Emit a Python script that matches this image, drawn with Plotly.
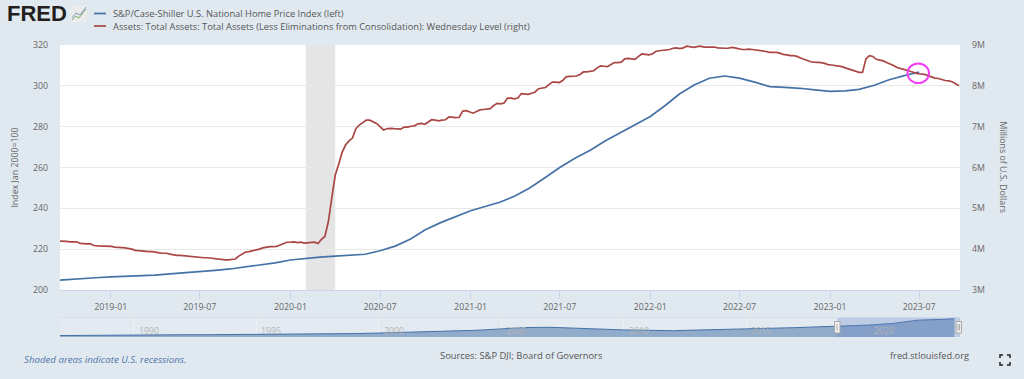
import pandas as pd
import plotly.graph_objects as go

# ---------- data ----------
SERIES_HPI = "S&P/Case-Shiller U.S. National Home Price Index (left)"
SERIES_ASSETS = "Assets: Total Assets: Total Assets (Less Eliminations from Consolidation): Wednesday Level (right)"

hpi_start = "2018-09-01"
hpi_values = [
    204.5, 205.1, 205.6, 206.0,
    206.4, 206.6, 206.9, 207.3, 207.9, 208.4, 208.9, 209.6, 210.3, 211.2, 212.2, 213.3,
    214.7, 215.5, 216.1, 216.6, 216.9, 217.5, 219.2, 221.5, 225.0, 229.5, 233.0, 236.0,
    238.8, 241.0, 243.0, 246.0, 250.0, 255.0, 260.0, 264.5, 268.5, 273.0, 277.0, 281.0,
    285.0, 290.5, 296.0, 300.5, 303.7, 304.8, 303.8, 301.8, 299.6, 299.2, 298.8, 298.0,
    297.3, 297.5, 298.3, 300.3, 303.0, 305.0, 306.8,
]

assets_start = "2018-09-19"
assets_2018 = [4.20, 4.20, 4.19, 4.18, 4.18, 4.18, 4.14, 4.13, 4.13, 4.13, 4.09, 4.08, 4.08, 4.08, 4.07]
assets_2019 = [
    4.07, 4.05, 4.05, 4.04, 4.03, 4.02, 4.00, 3.97, 3.96, 3.95, 3.94, 3.94, 3.94,
    3.92, 3.91, 3.90, 3.90, 3.88, 3.86, 3.85, 3.85, 3.84, 3.83, 3.83, 3.82, 3.81,
    3.80, 3.79, 3.79, 3.78, 3.76, 3.75, 3.75, 3.74, 3.74, 3.75, 3.76, 3.83, 3.88,
    3.93, 3.94, 3.96, 3.97, 4.00, 4.03, 4.05, 4.06, 4.06, 4.07, 4.10, 4.13, 4.17,
]
assets_2020 = [
    4.17, 4.18, 4.16, 4.17, 4.15, 4.16, 4.17, 4.17, 4.14, 4.24, 4.31, 4.67, 5.25,
    5.81, 6.08, 6.37, 6.55, 6.65, 6.72, 6.95, 7.04, 7.10, 7.16, 7.16, 7.11, 7.08,
    7.00, 6.92, 6.95, 6.96, 6.95, 6.94, 6.94, 6.99, 6.99, 7.01, 7.02, 7.07, 7.08,
    7.06, 7.12, 7.17, 7.16, 7.14, 7.16, 7.17, 7.24, 7.23, 7.22, 7.23, 7.38,
]
assets_2021 = [
    7.39, 7.35, 7.33, 7.37, 7.41, 7.42, 7.43, 7.44, 7.52, 7.57, 7.56, 7.58, 7.70,
    7.70, 7.68, 7.70, 7.81, 7.80, 7.79, 7.82, 7.85, 7.93, 7.94, 7.96, 8.03, 8.09,
    8.09, 8.08, 8.13, 8.22, 8.23, 8.24, 8.24, 8.28, 8.34, 8.34, 8.35, 8.37, 8.44,
    8.49, 8.48, 8.47, 8.52, 8.57, 8.57, 8.58, 8.66, 8.67, 8.66, 8.65, 8.72, 8.78,
]
assets_2022 = [
    8.77, 8.76, 8.78, 8.84, 8.86, 8.87, 8.87, 8.89, 8.92, 8.93, 8.91, 8.93, 8.97,
    8.95, 8.94, 8.96, 8.97, 8.95, 8.95, 8.95, 8.95, 8.93, 8.92, 8.92, 8.92, 8.94,
    8.93, 8.91, 8.89, 8.89, 8.90, 8.89, 8.88, 8.87, 8.85, 8.84, 8.82, 8.82, 8.82,
    8.80, 8.77, 8.76, 8.74, 8.74, 8.72, 8.68, 8.65, 8.63, 8.59, 8.58, 8.58, 8.57,
]
assets_2023 = [
    8.55, 8.52, 8.51, 8.50, 8.48, 8.47, 8.44, 8.41, 8.38, 8.36, 8.33, 8.33, 8.66,
    8.74, 8.72, 8.65, 8.63, 8.61, 8.57, 8.54, 8.50, 8.45, 8.43, 8.40, 8.38, 8.35,
    8.32, 8.30, 8.29, 8.28, 8.25, 8.22, 8.19, 8.18, 8.15, 8.13, 8.12, 8.10, 8.05, 8.00,
]
assets_values = assets_2018 + assets_2019 + assets_2020 + assets_2021 + assets_2022 + assets_2023

nav_dates = ["1987-01-01", "1988-01-01", "1989-01-01", "1990-01-01", "1991-01-01", "1992-01-01", "1993-01-01",
             "1994-01-01", "1995-01-01", "1996-01-01", "1997-01-01", "1998-01-01", "1999-01-01", "2000-01-01",
             "2001-01-01", "2002-01-01", "2003-01-01", "2004-01-01", "2005-01-01", "2006-01-01", "2007-01-01",
             "2008-01-01", "2009-01-01", "2010-01-01", "2011-01-01", "2012-01-01", "2013-01-01", "2014-01-01",
             "2015-01-01", "2016-01-01", "2017-01-01", "2018-01-01", "2019-01-01", "2020-01-01", "2021-01-01",
             "2022-01-01", "2023-01-01", "2023-07-01"]
nav_values = [63.7, 68, 73, 76, 75.5, 75.5, 76, 77.5, 80, 81, 83, 86.5, 92, 100, 108, 116, 127, 140, 160, 179, 183,
              171, 153, 145, 140, 134, 143, 155, 161, 169, 178, 188, 206.4, 214.7, 238.8, 285, 297.3, 306.8]

x_ticks = ["2019-01-01", "2019-07-01", "2020-01-01", "2020-07-01", "2021-01-01", "2021-07-01",
           "2022-01-01", "2022-07-01", "2023-01-01", "2023-07-01"]
x_labels = ["2019-01", "2019-07", "2020-01", "2020-07", "2021-01", "2021-07",
            "2022-01", "2022-07", "2023-01", "2023-07"]
left_ticks = [200, 220, 240, 260, 280, 300, 320]
right_ticks = [3, 4, 5, 6, 7, 8, 9]
right_labels = ["3M", "4M", "5M", "6M", "7M", "8M", "9M"]
nav_years = ["1990", "1995", "2000", "2005", "2010", "2015", "2020"]

# ---------- styling ----------
BG = "#e1e9f0"
TEXT = "#666666"
FONT = "Open Sans"
FS = 8.8
BLUE = "#4572a7"
RED = "#aa4643"
view = ["2018-09-20", "2023-09-22"]

PL, PR, PT, PB = 60, 960, 45, 337
px = lambda x: (x - PL) / (PR - PL)
py = lambda y: (PB - y) / (PB - PT)

hpi_dates = pd.date_range(hpi_start, periods=len(hpi_values), freq="MS")
assets_dates = pd.date_range(assets_start, periods=len(assets_values), freq="7D")

fig = go.Figure()
fig.add_trace(go.Scatter(x=hpi_dates, y=hpi_values, name=SERIES_HPI, mode="lines",
                         line=dict(color=BLUE, width=1.7), xaxis="x", yaxis="y"))
fig.add_trace(go.Scatter(x=assets_dates, y=assets_values, name=SERIES_ASSETS, mode="lines",
                         line=dict(color=RED, width=1.7), xaxis="x", yaxis="y2"))
fig.add_trace(go.Scatter(x=nav_dates, y=nav_values, mode="lines", showlegend=False, hoverinfo="skip",
                         line=dict(color=BLUE, width=1), fill="tozeroy", fillcolor="rgba(69,114,167,0.52)",
                         xaxis="x2", yaxis="y3"))


def note(text, x, y, anchor="left", size=FS, color=TEXT, **kw):
    return dict(text=text, x=px(x), y=py(y), xref="paper", yref="paper", xanchor=anchor, yanchor="middle",
                showarrow=False, font=dict(family=kw.pop("family", FONT), size=size, color=color), **kw)


annotations = [
    note(SERIES_HPI, 111, 13.5, size=9.3, color="#555555"),
    note(SERIES_ASSETS, 111, 26, size=9.3, color="#555555"),
    note("<b>FRED</b>", 5, 14, size=22, color="#231f20", family="Liberation Sans"),
    note("<i>Shaded areas indicate U.S. recessions.</i>", 22, 359, size=9.7, color="#4f74a8"),
    note("Sources: S&P DJI; Board of Governors", 521, 355, anchor="center", size=9.4, color="#555555"),
    note("fred.stlouisfed.org", 971, 355, anchor="right", size=9.25, color="#555555"),
    note("Millions of U.S. Dollars", 1003, 167.5, anchor="center", textangle=90),
]
for yr in nav_years:
    annotations.append(dict(text=yr, x=f"{yr}-01-01", xref="x2", y=py(331), yref="paper", xshift=3,
                            xanchor="left", yanchor="middle", showarrow=False,
                            font=dict(family=FONT, size=FS, color="#b4b4b4")))


def rect(x0, y0, x1, y1, fill, line=None, width=1, layer="above"):
    return dict(type="rect", xref="paper", yref="paper", x0=px(x0), x1=px(x1), y0=py(y0), y1=py(y1),
                fillcolor=fill, line=dict(color=line or "rgba(0,0,0,0)", width=width if line else 0), layer=layer)


def path(points, color, width=1.5):
    d = "M " + " L ".join(f"{px(a):.5f},{py(b):.5f}" for a, b in points)
    return dict(type="path", xref="paper", yref="paper", path=d, line=dict(color=color, width=width), layer="above")


shapes = [
    # navigator background and recession band
    dict(type="rect", xref="x2", yref="y3", x0="1987-01-01", x1="2023-09-22", y0=43, y1=327,
         fillcolor="#e3eaf1", line=dict(width=0), layer="below"),
    dict(type="rect", xref="x", yref="paper", x0="2020-02-01", x1="2020-04-01", y0=py(290), y1=py(45),
         fillcolor="#e5e5e5", line=dict(width=0), layer="between"),
    # navigator selection
    dict(type="rect", xref="x2", yref="paper", x0="2018-09-20", x1="2023-09-22", y0=py(337), y1=py(317.3),
         fillcolor="rgba(102,133,194,0.3)", line=dict(width=0), layer="above"),
    rect(60, 317.3, 836, 317.9, "#cfd7df"),
    rect(834.5, 321.5, 840, 333, "#f2f2f2", "#a8a8a8"),
    rect(956, 321.5, 961.5, 333, "#f2f2f2", "#a8a8a8"),
    path([(837, 324), (837, 330.5)], "#a8a8a8", 1),
    path([(958, 324), (958, 330.5)], "#a8a8a8", 1),
    path([(959.6, 324), (959.6, 330.5)], "#a8a8a8", 1),
    # legend keys
    path([(94, 13.5), (106, 13.5)], BLUE, 1.7),
    path([(94, 26), (106, 26)], RED, 1.7),
    # FRED logo icon
    rect(71, 6, 87, 22, "#ececec"),
    path([(72, 20), (76, 16), (79, 18), (86, 9)], "#7fa86a", 1),
    path([(72, 18), (76, 13), (80, 15), (86, 7)], "#7d9cc4", 1),
    # highlight circle
    dict(type="circle", xref="paper", yref="paper", x0=px(907.5), x1=px(929), y0=py(83), y1=py(63.5),
         line=dict(color="#f53cf5", width=2), layer="above"),
    # full-screen icon
    path([(1000, 358), (1000, 355), (1003, 355)], "#222222", 1.5),
    path([(1007, 355), (1010, 355), (1010, 358)], "#222222", 1.5),
    path([(1000, 362), (1000, 365), (1003, 365)], "#222222", 1.5),
    path([(1007, 365), (1010, 365), (1010, 362)], "#222222", 1.5),
]

fig.update_layout(
    width=1024, height=379, autosize=False,
    margin=dict(l=PL, r=1024 - PR, t=PT, b=379 - PB, pad=0),
    paper_bgcolor=BG, plot_bgcolor="#ffffff",
    font=dict(family=FONT, size=FS, color=TEXT),
    showlegend=False,
    annotations=annotations, shapes=shapes,
    xaxis=dict(domain=[0, 1], anchor="y", type="date", range=view, tickvals=x_ticks, ticktext=x_labels,
               ticks="outside", ticklen=8, tickcolor="#ccd6eb", tickwidth=1, showgrid=False, showline=True,
               linecolor="#ccd6eb", linewidth=1, zeroline=False, tickfont=dict(size=FS, color=TEXT)),
    yaxis=dict(domain=[py(290), 1], anchor="x", range=[200, 320], tickvals=left_ticks, gridcolor="#e8e8e8",
               gridwidth=1, zeroline=False, showline=False, ticks="", ticklabelstandoff=11,
               title=dict(text="Index Jan 2000=100", standoff=12, font=dict(size=FS, color=TEXT))),
    yaxis2=dict(domain=[py(290), 1], anchor="x", overlaying="y", side="right", range=[3, 9], tickvals=right_ticks,
                ticktext=right_labels, showgrid=False, zeroline=False, showline=False, ticks="",
                ticklabelstandoff=11),
    xaxis2=dict(domain=[0, 1], anchor="y3", type="date", range=["1987-01-01", "2023-09-22"],
                tickvals=[f"{y}-01-01" for y in nav_years], showticklabels=False, ticks="", showgrid=True,
                gridcolor="#edf1f5", gridwidth=1, zeroline=False, showline=False),
    yaxis3=dict(domain=[0, py(317.3)], anchor="x2", range=[43, 327], showgrid=False, showticklabels=False,
                ticks="", zeroline=False, showline=False),
)

print(len(assets_values), assets_dates[-1], len(hpi_values), hpi_dates[-1])
fig.write_html("out.html", config=dict(displayModeBar=False),
               post_script="document.body.style.margin='0';document.body.style.background='#e1e9f0';")
